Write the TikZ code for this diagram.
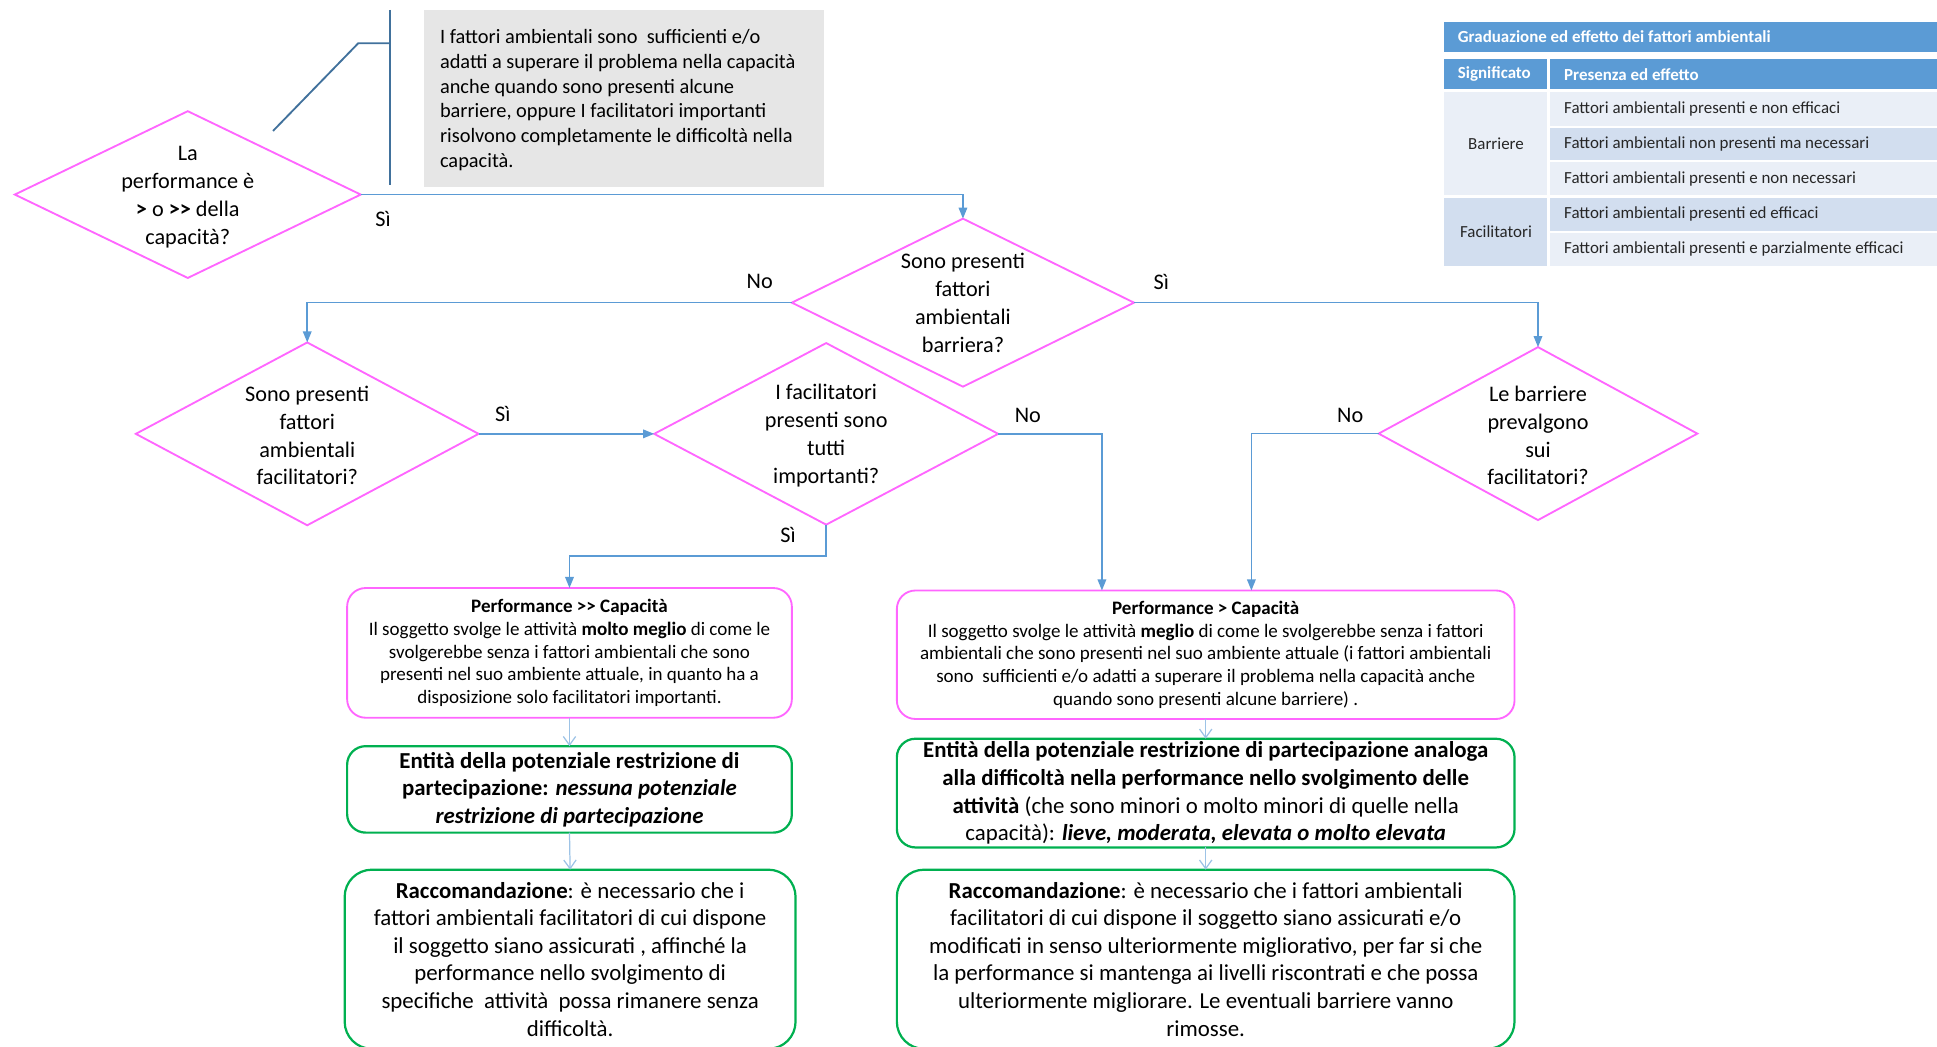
\documentclass[tikz,border=0pt]{standalone}
\usepackage{fontspec}
\setmainfont{Carlito}
\usetikzlibrary{shapes.geometric,arrows.meta,calc}
\definecolor{pinkm}{HTML}{FF66FF}
\definecolor{greenb}{HTML}{00B050}
\definecolor{connb}{HTML}{5B9BD5}
\definecolor{lightarr}{HTML}{9DC3E6}
\definecolor{calloutc}{HTML}{41719C}
\definecolor{grayfill}{HTML}{E6E6E6}
\definecolor{tblblue}{HTML}{5B9BD5}
\definecolor{tbllight}{HTML}{EAEFF7}
\definecolor{tbldark}{HTML}{D2DEEF}
\begin{document}
\begin{tikzpicture}[x=1pt,y=-1pt,
  dia/.style={diamond, draw=pinkm, line width=1.5pt, inner sep=0pt, outer sep=0pt},
  dtext/.style={align=center, font=\fontsize{18}{22.6}\selectfont, inner sep=0pt},
  conn/.style={draw=connb, line width=1.2pt, -{Triangle[length=9pt,width=7pt]}},
  flow/.style={draw=lightarr, line width=1pt, -{Straight Barb[length=7pt,width=10pt]}},
  pbox/.style={draw=pinkm, line width=1.5pt, rounded corners=15pt, align=center, inner sep=0pt, outer sep=0pt, font=\fontsize{15.4}{18.4}\selectfont},
  gbox/.style={draw=greenb, line width=1.8pt, rounded corners=15pt, align=center, inner sep=0pt, outer sep=0pt, font=\fontsize{18.5}{22.3}\selectfont},
  lab/.style={font=\fontsize{18}{22}\selectfont, inner sep=0pt},
  callbox/.style={fill=grayfill, inner sep=0pt, outer sep=0pt},
  calltext/.style={align=left, inner sep=0pt, anchor=west, font=\fontsize{16.5}{20.2}\selectfont},
  calline/.style={draw=calloutc, line width=1.5pt},
  ttext/.style={anchor=west, inner sep=0pt, font=\fontsize{13.7}{15}\selectfont, text=black!85},
  thead/.style={anchor=west, inner sep=0pt, font=\fontsize{13.7}{15}\selectfont\bfseries, text=white}
]
\useasboundingbox (0,0) rectangle (1568,847);
\clip (0,0) rectangle (1568,847);

% ---------- table ----------
\fill[tblblue] (1169,17.5) rectangle (1568,42.4);
\fill[tblblue] (1169,47.8) rectangle (1252.5,72.3);
\fill[tblblue] (1254.5,47.8) rectangle (1568,72.3);
\fill[tbllight] (1169,74.2) rectangle (1252.5,158.1);
\fill[tbldark] (1169,160) rectangle (1252.5,215.1);
\fill[tbllight] (1254.5,74.2) rectangle (1568,102);
\fill[tbldark] (1254.5,103.4) rectangle (1568,129.5);
\fill[tbllight] (1254.5,131.4) rectangle (1568,158.1);
\fill[tbldark] (1254.5,160) rectangle (1568,186.8);
\fill[tbllight] (1254.5,188.6) rectangle (1568,215.1);
\node[thead] (ttitle) at (1180,30) {Graduazione ed effetto dei fattori ambientali};
\node[thead] (th1) at (1180,60) {Significato};
\node[thead] (th2) at (1266,60) {Presenza ed effetto};
\node[ttext, anchor=center] (tbar) at (1211,116.2) {Barriere};
\node[ttext, anchor=center] (tfac) at (1211,187.6) {Facilitatori};
\node[ttext] (tr1) at (1266,88.1) {Fattori ambientali presenti e non efficaci};
\node[ttext] (tr2) at (1266,116.5) {Fattori ambientali non presenti ma necessari};
\node[ttext] (tr3) at (1266,144.8) {Fattori ambientali presenti e non necessari};
\node[ttext] (tr4) at (1266,173.4) {Fattori ambientali presenti ed efficaci};
\node[ttext] (tr5) at (1266,201.9) {Fattori ambientali presenti e parzialmente efficaci};

% ---------- callout ----------
\node[callbox, minimum width=324pt, minimum height=143pt] (call) at (505,79.5) {};
\node[calltext] (callt) at (356,81) {I fattori ambientali sono \ sufficienti e/o\\adatti a superare il problema nella capacità\\anche quando sono presenti alcune\\barriere, oppure I facilitatori importanti\\risolvono completamente le difficoltà nella\\capacità.};
\coordinate (cvt) at (316,8);
\coordinate (cvb) at (316,150);
\coordinate (cbend) at (290,35);
\coordinate (cjoin) at (316,35);
\coordinate (ctip) at (221,106);
\draw[calline] (cvt) -- (cvb);
\draw[calline] (ctip) -- (cbend) -- (cjoin);

% ---------- diamonds ----------
\node[dia, minimum width=280pt, minimum height=135pt] (d1) at (152,157.5) {};
\node[dtext] (d1t) at (152,159.5) {La\\performance è\\\textbf{>} o \textbf{>{}>} della\\capacità?};
\node[dia, minimum width=277pt, minimum height=136pt] (d2) at (779.5,245) {};
\node[dtext] (d2t) at (d2) {Sono presenti\\fattori\\ambientali\\barriera?};
\node[dia, minimum width=277.5pt, minimum height=148pt] (d3) at (248.7,351.2) {};
\node[dtext] (d3t) at (248.7,352.5) {Sono presenti\\fattori\\ambientali\\facilitatori?};
\node[dia, minimum width=278.5pt, minimum height=147pt] (d4) at (668.8,351.2) {};
\node[dtext] (d4t) at (668.8,352.5) {I facilitatori\\presenti sono\\tutti\\importanti?};
\node[dia, minimum width=258pt, minimum height=140pt] (d5) at (1245,351) {};
\node[dtext] (d5t) at (1245,352.5) {Le barriere\\prevalgono\\sui\\facilitatori?};

% ---------- boxes ----------
\node[pbox, minimum width=360pt, minimum height=105pt] (l1) at (461,528.5) {\textbf{Performance >{}> Capacità}\\Il soggetto svolge le attività \textbf{molto meglio} di come le\\svolgerebbe senza i fattori ambientali che sono\\presenti nel suo ambiente attuale, in quanto ha a\\disposizione solo facilitatori importanti.};
\node[pbox, minimum width=500pt, minimum height=104pt] (r1) at (976,530) {\textbf{Performance > Capacità}\\Il soggetto svolge le attività \textbf{meglio} di come le svolgerebbe senza i fattori\\ambientali che sono presenti nel suo ambiente attuale (i fattori ambientali\\sono \ sufficienti e/o adatti a superare il problema nella capacità anche\\quando sono presenti alcune barriere) .};
\node[gbox, minimum width=360pt, minimum height=70pt] (l2) at (461,639) {\textbf{Entità della potenziale restrizione di}\\\textbf{partecipazione: \textit{nessuna potenziale}}\\\textbf{\textit{restrizione di partecipazione}}};
\node[gbox, minimum width=500pt, minimum height=88pt] (r2) at (976,642) {\textbf{Entità della potenziale restrizione di partecipazione analoga}\\\textbf{alla difficoltà nella performance nello svolgimento delle}\\\textbf{attività} (che sono minori o molto minori di quelle nella\\capacità): \textbf{\textit{lieve, moderata, elevata o molto elevata}}};
\node[gbox, rounded corners=22pt, minimum width=365pt, minimum height=145pt] (l3) at (461.5,776.5) {\textbf{Raccomandazione}: è necessario che i\\fattori ambientali facilitatori di cui dispone\\il soggetto siano assicurati , affinché la\\performance nello svolgimento di\\specifiche \ attività \ possa rimanere senza\\difficoltà.};
\node[gbox, rounded corners=22pt, minimum width=500pt, minimum height=145pt] (r3) at (976,776.5) {\textbf{Raccomandazione}: è necessario che i fattori ambientali\\facilitatori di cui dispone il soggetto siano assicurati e/o\\modificati in senso ulteriormente migliorativo, per far si che\\la performance si mantenga ai livelli riscontrati e che possa\\ulteriormente migliorare. Le eventuali barriere vanno\\rimosse.};

% ---------- connectors ----------
\coordinate (d4turn) at (668.8,450);
\coordinate (r1inA) at (892,478);
\coordinate (r1inB) at (1013,478);
\draw[conn] (d1.east) -| (d2.north);
\draw[conn] (d2.west) -| (d3.north);
\draw[conn] (d2.east) -| (d5.north);
\draw[conn] (d3.east) -- (d4.west);
\draw[conn] (d4.south) -- (d4turn) -| (l1.north);
\draw[conn] (d4.east) -| (r1inA);
\draw[conn] (d5.west) -| (r1inB);
\draw[flow] (l1.south) -- (l2.north);
\draw[flow] (l2.south) -- (l3.north);
\draw[flow] (r1.south) -- (r2.north);
\draw[flow] (r2.south) -- (r3.north);

% ---------- labels ----------
\node[lab] (s1) at (310,177) {Sì};
\node[lab] (n2) at (615,228) {No};
\node[lab] (s2) at (940,228) {Sì};
\node[lab] (s3) at (407,335) {Sì};
\node[lab] (n4) at (832,336) {No};
\node[lab] (s4) at (638,433) {Sì};
\node[lab] (n5) at (1093,336) {No};
\end{tikzpicture}
\end{document}
